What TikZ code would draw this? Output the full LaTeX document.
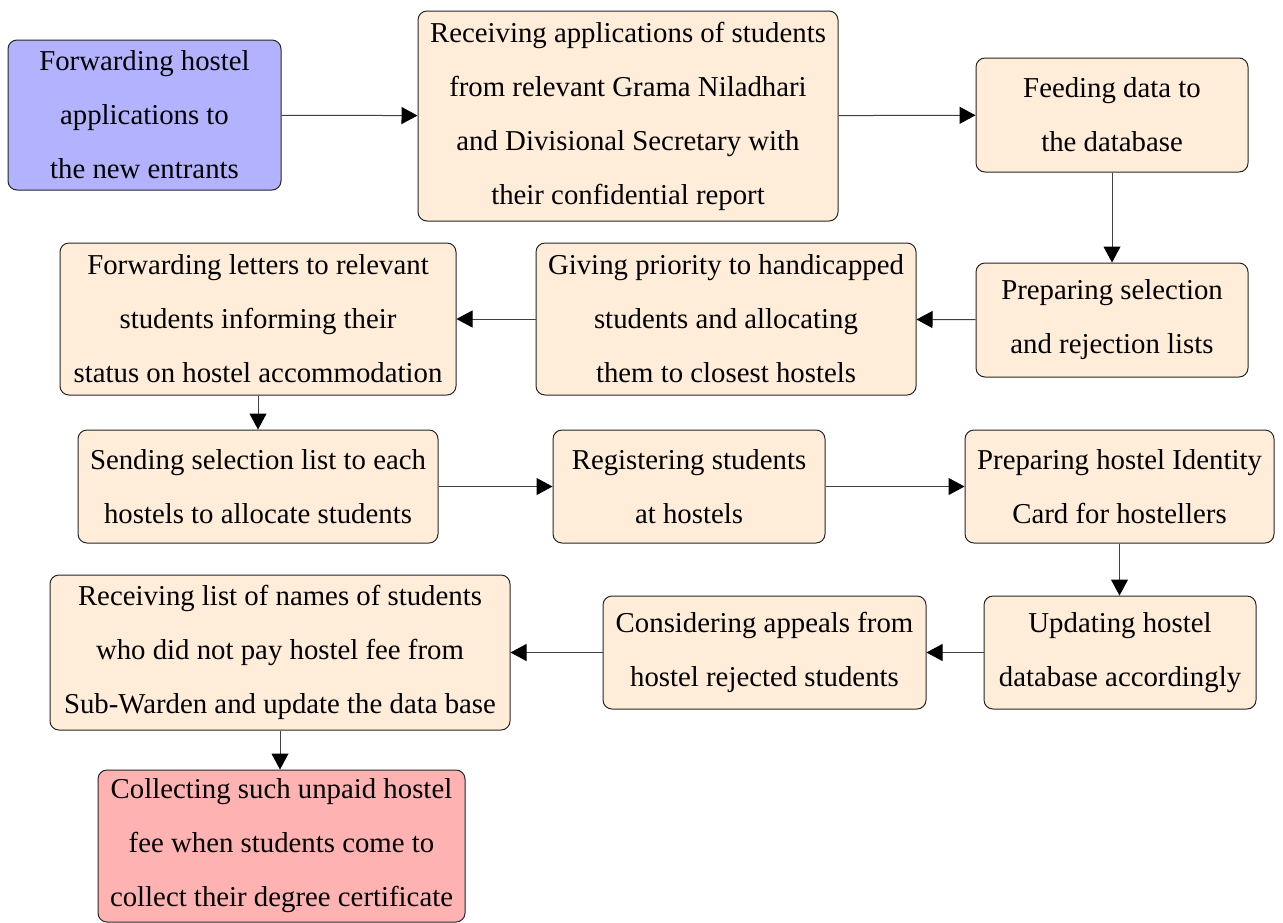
\documentclass[tikz,border=0pt]{standalone}
\usepackage{fontspec}
\setmainfont{Liberation Serif}
\usetikzlibrary{arrows.meta}
\begin{document}
\begin{tikzpicture}[x=0.5pt,y=-0.5pt,
  box/.style={draw=black!85, line width=0.5pt, rounded corners=4.5pt, fill=orange!15,
    align=center, inner sep=0pt,
    font=\fontsize{14.4}{27}\selectfont},
  flow/.style={draw=black!75, line width=0.5pt,
    -{Triangle[length=8pt,width=8.5pt,color=black]}}]
\useasboundingbox (0,0) rectangle (1283,922);

% first row
\node[box, fill=blue!30, minimum width=136.5pt, minimum height=75pt] (n1) at (144.5,115)
  {Forwarding hostel\\applications to\\the new entrants};
\node[box, minimum width=210pt, minimum height=105pt] (n2) at (628,116)
  {Receiving applications of students\\from relevant Grama Niladhari\\and Divisional Secretary with\\their confidential report};
\node[box, minimum width=136pt, minimum height=57pt] (n3) at (1112,115)
  {Feeding data to\\the database};

% second row
\node[box, minimum width=136pt, minimum height=57pt] (n4) at (1112,320)
  {Preparing selection\\and rejection lists};
\node[box, minimum width=190pt, minimum height=76pt] (n5) at (726,319)
  {Giving priority to handicapped\\students and allocating\\them to closest hostels};
\node[box, minimum width=198pt, minimum height=76pt] (n6) at (258,319)
  {Forwarding letters to relevant\\students informing their\\status on hostel accommodation};

% third row
\node[box, minimum width=180pt, minimum height=56.5pt] (n7) at (258,486.5)
  {Sending selection list to each\\hostels to allocate students};
\node[box, minimum width=136pt, minimum height=56.5pt] (n8) at (689,486.5)
  {Registering students\\at hostels};
\node[box, minimum width=154.5pt, minimum height=56.5pt] (n9) at (1119.5,486.5)
  {Preparing hostel Identity\\Card for hostellers};

% fourth row
\node[box, minimum width=136pt, minimum height=56.5pt] (n10) at (1120,652.5)
  {Updating hostel\\database accordingly};
\node[box, minimum width=161.5pt, minimum height=56.5pt] (n11) at (764.5,652.5)
  {Considering appeals from\\hostel rejected students};
\node[box, minimum width=230pt, minimum height=77.5pt] (n12) at (280,652.5)
  {Receiving list of names of students\\who did not pay hostel fee from\\Sub-Warden and update the data base};

% last step
\node[box, fill=red!30, minimum width=183.5pt, minimum height=76pt] (n13) at (281.5,846)
  {Collecting such unpaid hostel\\fee when students come to\\collect their degree certificate};

% connectors
\draw[flow] (n1) -- (n2);
\draw[flow] (n2) -- (n3);
\draw[flow] (n3) -- (n4);
\draw[flow] (n4) -- (n5);
\draw[flow] (n5) -- (n6);
\draw[flow] (n6.south) -- (n6.south |- n7.north);
\draw[flow] (n7) -- (n8);
\draw[flow] (n8) -- (n9);
\draw[flow] (n9.south) -- (n9.south |- n10.north);
\draw[flow] (n10) -- (n11);
\draw[flow] (n11) -- (n12);
\draw[flow] (n12.south) -- (n12.south |- n13.north);
\end{tikzpicture}
\end{document}
